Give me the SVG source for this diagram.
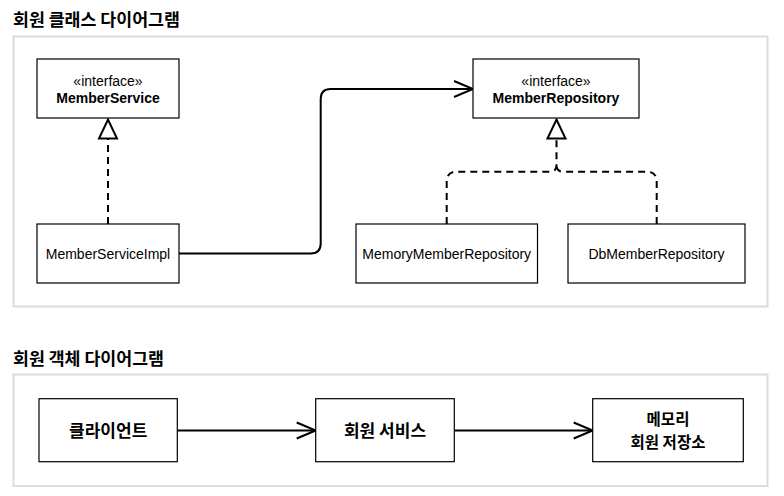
<svg xmlns="http://www.w3.org/2000/svg" width="784" height="496" viewBox="0 0 784 496">
<style>
.panel{fill:#fff;stroke:#dcdcdc;stroke-width:2}
.box{fill:#fff;stroke:#000;stroke-width:1.2}
.title{font-family:"Noto Sans CJK KR","Noto Sans",sans-serif;font-weight:bold;font-size:17.3px;fill:#000}
.kr{font-family:"Noto Sans CJK KR","Noto Sans",sans-serif;font-weight:bold;font-size:17px;fill:#000;text-anchor:middle}
.kr2{font-size:15.5px}
.en{font-family:"Liberation Sans",Arial,sans-serif;font-size:14px;fill:#000;text-anchor:middle}
.b{font-weight:bold}
.line{fill:none;stroke:#000;stroke-width:2}
.dash{fill:none;stroke:#000;stroke-width:2;stroke-dasharray:7 5}
</style>
<defs>
<marker id="open" markerUnits="userSpaceOnUse" markerWidth="24" markerHeight="20" viewBox="-21 -10 24 20" refX="0" refY="0" orient="auto">
<path d="M-19,-8 L0,0 L-19,8" fill="none" stroke="#000" stroke-width="2"/>
</marker>
<marker id="tri" markerUnits="userSpaceOnUse" markerWidth="24" markerHeight="24" viewBox="-2 -12 24 24" refX="19" refY="0" orient="auto">
<path d="M0,-9 L19,0 L0,9 Z" fill="#fff" stroke="#000" stroke-width="2"/>
</marker>
</defs>
<rect class="panel" x="13.5" y="36.5" width="754" height="270"/>
<rect class="panel" x="13.5" y="374.5" width="754" height="111.5"/>
<text class="title" x="13" y="26">회원 클래스 다이어그램</text>
<text class="title" x="13" y="365">회원 객체 다이어그램</text>
<g id="connectors">
<path class="dash" d="M656.7,224 V181.7 Q656.7,171.7 646.7,171.7 H563 Q556.5,171.7 556.5,165"/>
<path class="dash" d="M446.7,224 V181.7 Q446.7,171.7 456.7,171.7 H550 Q556.5,171.7 556.5,165 V119.5" marker-end="url(#tri)"/>
<path class="dash" d="M108,224 V119.5" marker-end="url(#tri)"/>
<path class="line" d="M179,253.5 H310.7 Q320.7,253.5 320.7,243.5 V99 Q320.7,89 330.7,89 H473" marker-end="url(#open)"/>
<path class="line" d="M177.3,430.5 H315.7" marker-end="url(#open)"/>
<path class="line" d="M454.3,430.5 H592.7" marker-end="url(#open)"/>
</g>
<g id="MemberService">
<rect class="box" x="37" y="59" width="142" height="59"/>
<text class="en" x="108" y="86">«interface»</text>
<text class="en b" x="108" y="102.5">MemberService</text>
</g>
<g id="MemberServiceImpl">
<rect class="box" x="37" y="224" width="142" height="59"/>
<text class="en" x="108" y="259">MemberServiceImpl</text>
</g>
<g id="MemberRepository">
<rect class="box" x="473" y="59" width="166" height="59"/>
<text class="en" x="556" y="86">«interface»</text>
<text class="en b" x="556" y="102.5">MemberRepository</text>
</g>
<g id="MemoryMemberRepository">
<rect class="box" x="356" y="224" width="181.5" height="59"/>
<text class="en" x="446.7" y="259">MemoryMemberRepository</text>
</g>
<g id="DbMemberRepository">
<rect class="box" x="568" y="224" width="177" height="59"/>
<text class="en" x="656.5" y="259">DbMemberRepository</text>
</g>
<g id="client">
<rect class="box" x="39" y="398.7" width="138.3" height="63"/>
<text class="kr" x="108.2" y="436.6">클라이언트</text>
</g>
<g id="service">
<rect class="box" x="315.7" y="398.7" width="138.6" height="63"/>
<text class="kr" x="385" y="436.6">회원 서비스</text>
</g>
<g id="store">
<rect class="box" x="592.7" y="398.7" width="150.6" height="63"/>
<text class="kr kr2" x="668" y="425.3">메모리</text>
<text class="kr kr2" x="668" y="448">회원 저장소</text>
</g>
</svg>
